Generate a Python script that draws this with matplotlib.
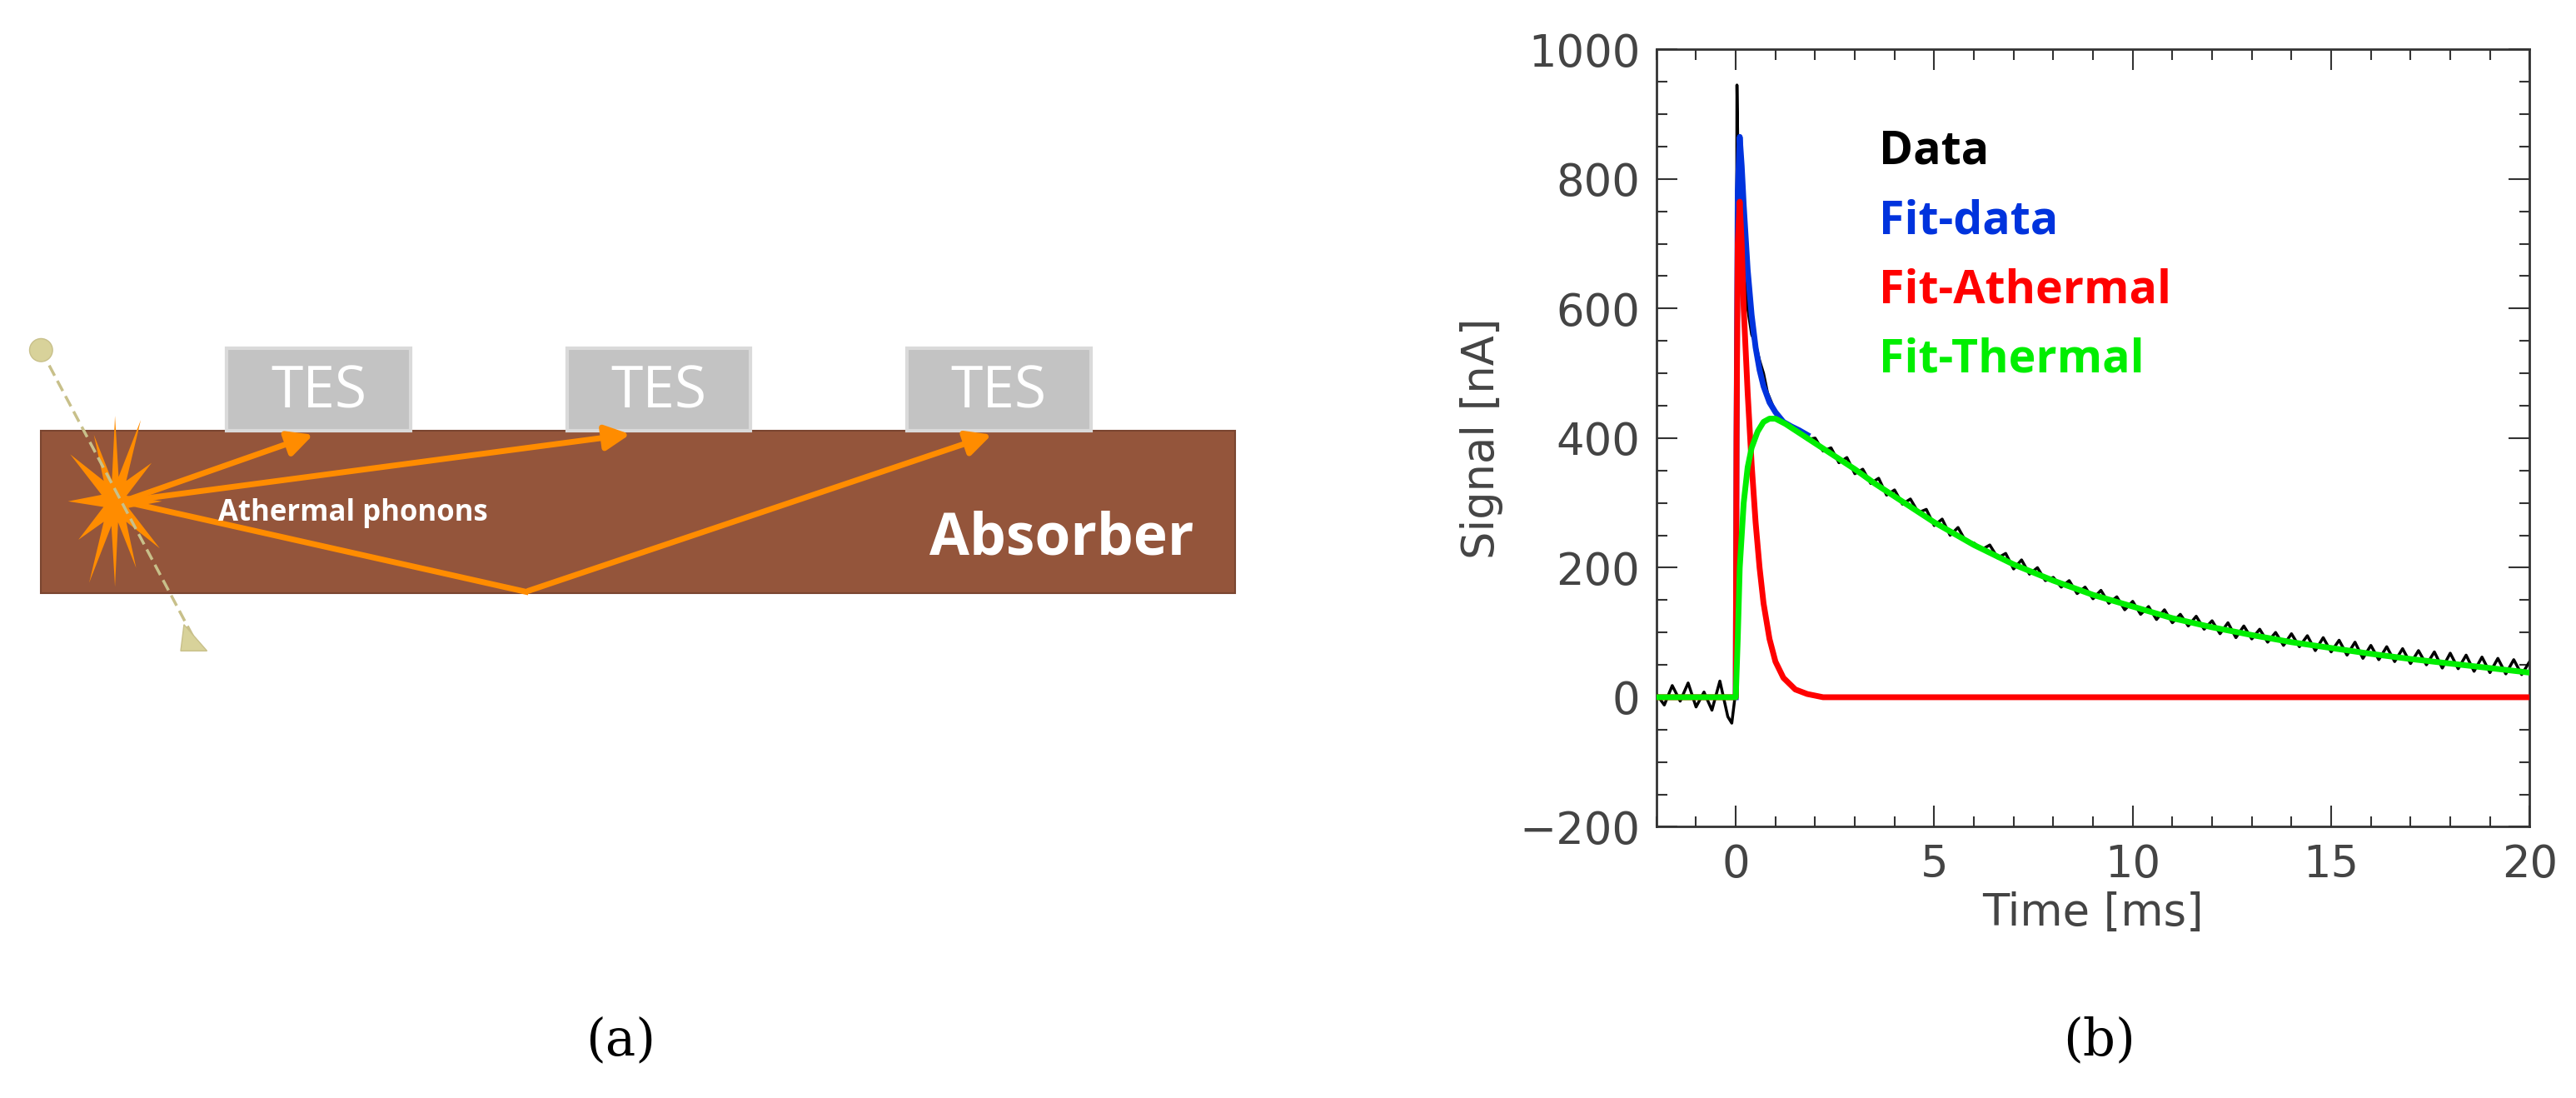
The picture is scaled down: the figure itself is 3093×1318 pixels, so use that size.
import numpy as np
import matplotlib
matplotlib.use("Agg")
import matplotlib.pyplot as plt
from matplotlib.patches import Rectangle, Polygon, Circle, FancyArrowPatch
from matplotlib.ticker import MultipleLocator

# ---------------- data ----------------
early_t = [-2.0,-1.8,-1.6,-1.4,-1.2,-1.0,-0.8,-0.6,-0.4,-0.2,-0.1,0.0,0.03,0.06,0.1,0.15,0.2,0.3,0.4,0.5,0.6,0.7,0.8,0.9]
early_y = [5,-12,18,-6,22,-15,8,-20,25,-30,-40,10,945,820,760,700,660,600,560,545,520,500,470,455]
late_y = [440,425,418,410,398,400,380,385,362,370,345,352,330,338,312,320,298,306,285,290,
          265,275,250,262,240,238,228,235,215,222,198,212,190,200,180,185,170,180,160,170,
          152,165,145,155,135,148,128,140,120,135,115,128,110,125,105,118,98,115,92,110,
          90,105,85,100,80,98,78,95,72,92,70,88,65,85,60,80,58,78,55,75,
          52,72,50,70,45,68,44,65,40,62,38,60,36,58,35,55]
late_t = [round(1.0 + 0.2 * i, 1) for i in range(len(late_y))]
data_t = early_t + late_t
data_y = early_y + late_y

therm_t = [-2.0,0.0,0.05,0.1,0.2,0.3,0.4,0.55,0.7,0.85,1.0,1.25,1.5,2.0,2.5,3.0,3.5,4.0,4.5,5.0,6.0,7.0,8.0,9.0,10.0,
           11.0,12.0,13.0,14.0,15.0,16.0,17.0,18.0,19.0,20.0]
therm_y = [0,0,90,200,300,355,385,410,425,430,430,422,412,392,372,352,330,310,290,270,235,205,180,158,140,
           122,108,96,85,76,67,59,52,45,38]

ather_t = [-2.0,0.0,0.02,0.05,0.1,0.15,0.2,0.3,0.4,0.5,0.6,0.7,0.85,1.0,1.2,1.5,1.8,2.2,20.0]
ather_y = [0,0,400,700,765,700,600,470,360,270,200,145,90,55,30,12,5,0,0]

fit_t = [0.0,0.02,0.05,0.1,0.15,0.2,0.3,0.4,0.5,0.6,0.7,0.85,1.0,1.2,1.4,1.6,1.8]
fit_y = [0,400,780,865,820,760,660,590,540,505,480,455,440,425,418,412,405]

legend_labels = ["Data", "Fit-data", "Fit-Athermal", "Fit-Thermal"]
legend_colors = ["black", "#0033DD", "#FF0000", "#00EE00"]

# ---------------- figure ----------------
fig = plt.figure(figsize=(30.93, 13.18), dpi=100)

# ---- panel (a): diagram, coords in half-scale pixels ----
axd = fig.add_axes([0, 0, 1, 1])
axd.set_xlim(0, 1568); axd.set_ylim(668, 0); axd.axis("off")
axd.add_patch(Rectangle((25, 262), 727, 99, facecolor="#94553B", edgecolor="#7a4530", lw=1.5, zorder=1))
for x0 in [138, 345, 552]:
    axd.add_patch(Rectangle((x0, 212), 112, 50, facecolor="#C3C3C3", edgecolor="#DADADA", lw=3, zorder=1))
    axd.text(x0 + 56, 239, "TES", color="white", fontsize=50, ha="center", va="center",
             family="Open Sans", zorder=2)
orange = "#FF8C00"
src = (75, 305)
for (a, b) in [(src, (192, 264)), (src, (385, 264)), ((320, 360), (605, 264))]:
    axd.add_patch(FancyArrowPatch(a, b, arrowstyle="-|>,head_length=12,head_width=6",
                                  color=orange, lw=5, mutation_scale=1.5, zorder=3))
axd.plot([src[0], 320], [src[1], 360], color=orange, lw=5, zorder=3)
ang = np.linspace(0, 2 * np.pi, 25)[:-1]
rad = np.where(np.arange(24) % 2 == 0, 52, 22) * np.array([1, .7, 1.1, .8, .9, .6] * 4)
axd.add_patch(Polygon(np.c_[70 + rad * 0.55 * np.cos(ang), 305 + rad * np.sin(ang)],
                      facecolor=orange, edgecolor="none", zorder=4))
axd.plot([25, 120], [213, 392], color="#C8C08A", lw=2.5, ls=(0, (4, 2)), zorder=5)
axd.add_patch(Circle((25, 213), 7, facecolor="#D8D29A", edgecolor="#C8C08A", zorder=5))
axd.add_patch(Polygon([[112, 380], [126, 396], [110, 396]], facecolor="#D8D29A", edgecolor="#C8C08A", zorder=5))
axd.text(133, 312, "Athermal phonons", color="white", fontsize=25, fontweight="bold",
         family="Open Sans", va="center", zorder=6)
axd.text(566, 328, "Absorber", color="white", fontsize=50, fontweight="bold",
         family="Open Sans", va="center", zorder=6)
axd.text(378, 633, "(a)", fontsize=44, family="DejaVu Serif", ha="center", va="center")
axd.text(1278, 633, "(b)", fontsize=44, family="DejaVu Serif", ha="center", va="center")

# ---- panel (b): chart ----
ax = fig.add_axes([0.643, 0.247, 0.339, 0.708])
ax.plot(data_t, data_y, color="black", lw=2.5, zorder=2)
ax.plot(fit_t, fit_y, color=legend_colors[1], lw=5, zorder=3)
ax.plot(ather_t, ather_y, color=legend_colors[2], lw=5, zorder=4)
ax.plot(therm_t, therm_y, color=legend_colors[3], lw=5, zorder=5)
ax.set_xlim(-2, 20); ax.set_ylim(-200, 1000)
ax.xaxis.set_major_locator(MultipleLocator(5)); ax.xaxis.set_minor_locator(MultipleLocator(1))
ax.yaxis.set_major_locator(MultipleLocator(200)); ax.yaxis.set_minor_locator(MultipleLocator(50))
ax.tick_params(which="both", direction="in", top=True, right=True, color="#333", width=1.5)
ax.tick_params(which="major", length=18, labelsize=38, labelcolor="#444", pad=14)
ax.tick_params(which="minor", length=9)
for s in ax.spines.values():
    s.set_linewidth(2); s.set_color("#333")
ax.set_xlabel("Time [ms]", fontsize=38, color="#444", labelpad=4)
ax.set_ylabel("Signal [nA]", fontsize=38, color="#444", labelpad=14)
for i, (lab, col) in enumerate(zip(legend_labels, legend_colors)):
    ax.text(0.255, 0.868 - i * 0.089, lab, color=col, fontsize=40, fontweight="bold",
            family="Open Sans", transform=ax.transAxes, va="center")

fig.savefig("out.png", dpi=100)
